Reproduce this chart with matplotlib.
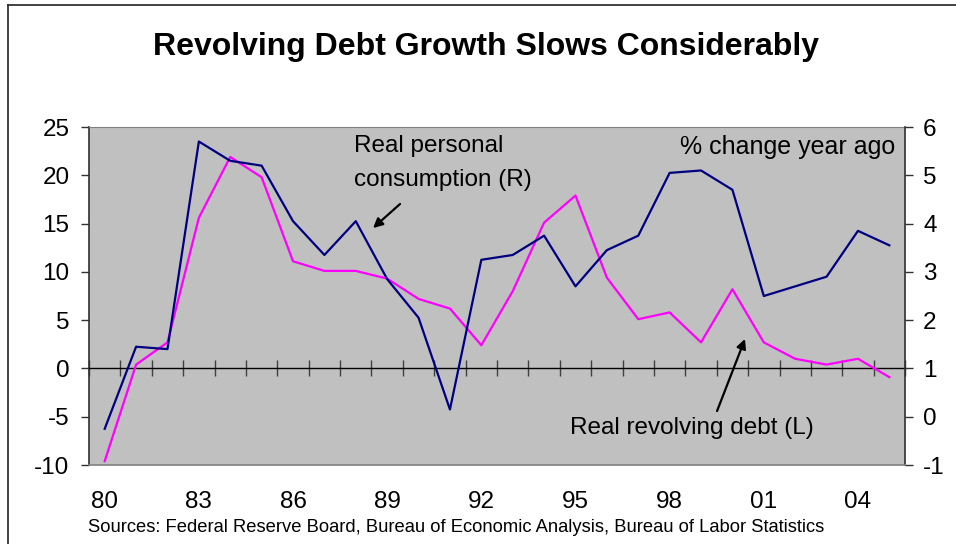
import numpy as np
import matplotlib
matplotlib.use("Agg")
import matplotlib.pyplot as plt
from matplotlib.lines import Line2D

plt.rcParams['font.family'] = ['Liberation Sans', 'DejaVu Sans']
plt.rcParams['axes.unicode_minus'] = False

years = np.arange(1980, 2006)
year_labels = ['80', '83', '86', '89', '92', '95', '98', '01', '04']

# real revolving debt, % change year ago (left scale)
revolving_debt = [-9.6, 0.4, 2.7, 15.6, 21.9, 19.8, 11.1, 10.1, 10.1, 9.3,
                  7.2, 6.2, 2.4, 8.0, 15.1, 17.9, 9.4, 5.1, 5.8, 2.7,
                  8.2, 2.7, 1.0, 0.4, 1.0, -0.9]

# real personal consumption, % change year ago (right scale)
consumption = [-0.25, 1.45, 1.4, 5.7, 5.3, 5.2, 4.05, 3.35, 4.05, 2.85,
               2.05, 0.15, 3.25, 3.35, 3.75, 2.7, 3.45, 3.75, 5.05, 5.1,
               4.7, 2.5, 2.7, 2.9, 3.85, 3.55]

fig = plt.figure(figsize=(9.56, 5.44), dpi=100)
ax = fig.add_axes([0.0931, 0.1452, 0.8536, 0.6213])
ax2 = ax.twinx()

ax.set_facecolor('#C0C0C0')
ax.plot(years, revolving_debt, color='#FF00FF', lw=1.6, zorder=3)
ax2.plot(years, consumption, color='#000080', lw=1.6, zorder=3)

ax.set_xlim(1979.5, 2005.5)
ax.set_ylim(-10, 25)
ax2.set_ylim(-1, 6)
ax.set_yticks(np.arange(-10, 26, 5))
ax2.set_yticks(np.arange(-1, 7, 1))

# category boundaries as tick marks crossing the zero line
ax.set_xticks(np.arange(1979.5, 2006, 1))
ax.spines['bottom'].set_position(('data', 0))
ax.spines['bottom'].set_color('black')
ax.spines['bottom'].set_linewidth(1.0)
ax.tick_params(axis='x', direction='inout', length=11, width=1.0,
               color='#404040', labelbottom=False)
ax.tick_params(axis='y', direction='out', length=6, width=1.0,
               color='#303030', labelsize=17.5, pad=8)
ax2.tick_params(axis='y', direction='out', length=6, width=1.0,
                color='#303030', labelsize=17.5, pad=7)

ax.spines['left'].set_color('#303030')
ax.spines['left'].set_linewidth(1.2)
ax.spines['top'].set_color('#808080')
ax.spines['right'].set_visible(False)
ax2.spines['right'].set_color('#303030')
ax2.spines['right'].set_linewidth(1.2)
ax2.spines['left'].set_visible(False)
ax2.spines['top'].set_visible(False)
ax2.spines['bottom'].set_color('#808080')
ax2.spines['bottom'].set_linewidth(1.2)

# year labels under the plot area
for yr, lab in zip(years[::3], year_labels):
    ax.text(yr, -0.108, lab, transform=ax.get_xaxis_transform(),
            ha='center', va='center', fontsize=17.5)

fig.text(0.508, 0.914, 'Revolving Debt Growth Slows Considerably',
         ha='center', va='center', fontsize=23, fontweight='bold')

ax2.text(0.988, 0.941, '% change year ago', transform=ax.transAxes,
         ha='right', va='center', fontsize=18)

# series labels with pointer arrows
ax2.text(0.325, 0.944, 'Real personal', transform=ax.transAxes,
         ha='left', va='center', fontsize=17.5)
ax2.text(0.325, 0.843, 'consumption (R)', transform=ax.transAxes,
         ha='left', va='center', fontsize=17.5)
ax2.text(0.5895, 0.1095, 'Real revolving debt (L)', transform=ax.transAxes,
         ha='left', va='center', fontsize=17.5)

arrow = dict(arrowstyle='-|>', color='black', lw=1.6, mutation_scale=14,
             shrinkA=0, shrinkB=0)
ax2.annotate('', xy=(1988.55, 14.54), xytext=(1989.41, 17.03),
             xycoords=ax.transData, textcoords=ax.transData, arrowprops=arrow)
ax2.annotate('', xy=(2000.40, 3.05), xytext=(1999.51, -4.41),
             xycoords=ax.transData, textcoords=ax.transData, arrowprops=arrow)

fig.text(0.092, 0.030, 'Sources: Federal Reserve Board, Bureau of Economic '
         'Analysis, Bureau of Labor Statistics', ha='left', va='center',
         fontsize=13.2)

# outer frame of the chart
fig.add_artist(Line2D([8 / 956, 1.0], [1 - 5 / 544, 1 - 5 / 544],
                      transform=fig.transFigure, color='#333333', lw=1.3))
fig.add_artist(Line2D([8 / 956, 8 / 956], [0.0, 1 - 5 / 544],
                      transform=fig.transFigure, color='#333333', lw=1.3))

fig.savefig('out.png', dpi=100)
